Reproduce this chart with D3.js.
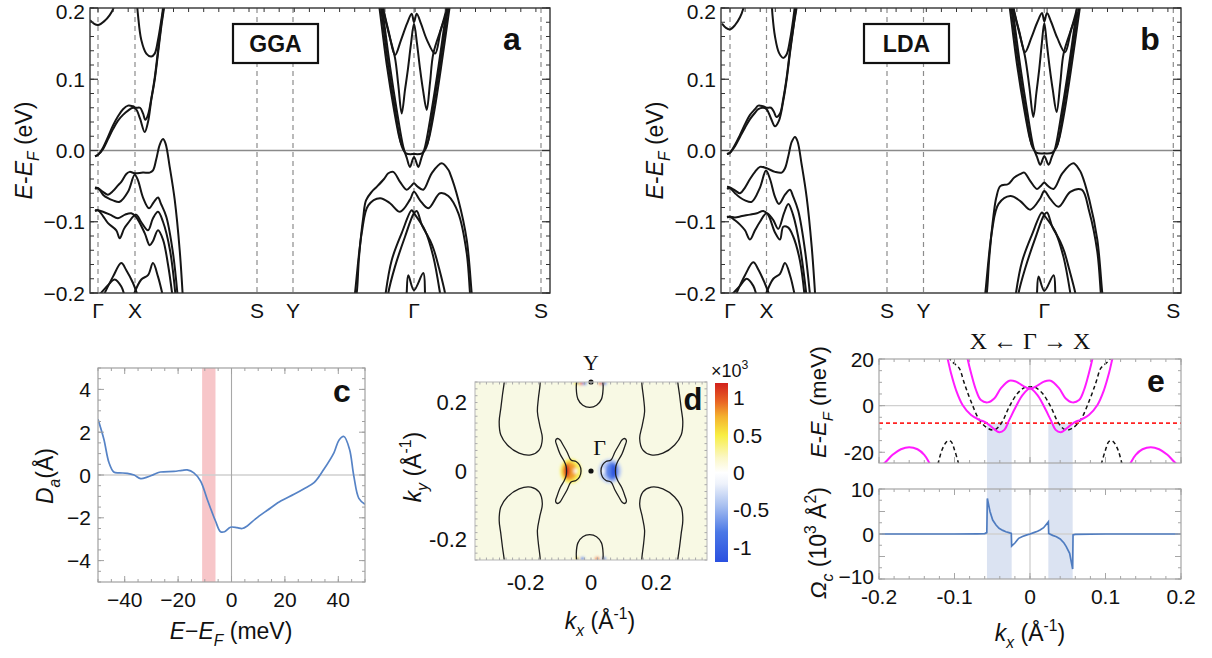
<!DOCTYPE html>
<html><head><meta charset="utf-8">
<script src="https://cdn.jsdelivr.net/npm/d3@7/dist/d3.min.js"></script>
<style>
html,body{margin:0;padding:0;background:#fff;}
svg{display:block;}
text{fill:#111;}
</style></head>
<body><svg id="fig" width="1212" height="658" font-family="'Liberation Sans',Arial,Helvetica,sans-serif"></svg>
<script>
// ---------- band structures (a: GGA, b: LDA) ----------
const pathLabels = ["Γ", "X", "S", "Y", "Γ", "S"];
const ggaPathPos = [0, 0.37, 1.59, 1.95, 3.16, 4.43];
const ldaPathPos = [0, 0.365, 1.57, 1.935, 3.143, 4.433];
const bandEnergyTicks = [-0.2, -0.1, 0, 0.1, 0.2];
const bandEnergyLabels = ["−0.2", "−0.1", "0.0", "0.1", "0.2"];

// bands leaving the first Γ towards X: [k from Γ, E (eV)]
const ggaBandsGX = [
  [[-0.08,0.183],[-0.04,0.178],[0,0.176],[0.067,0.182],[0.117,0.19],[0.15,0.198],[0.17,0.212]],
  [[-0.03,-0.008],[0,-0.006],[0.05,0.002],[0.1,0.016],[0.15,0.03],[0.2,0.042],[0.25,0.05],[0.3,0.056],[0.35,0.06],[0.38,0.058],[0.42,0.045],[0.467,0.026],[0.5,0.04],[0.533,0.071],[0.567,0.099],[0.6,0.136],[0.633,0.174],[0.66,0.2],[0.67,0.215]],
  [[-0.03,-0.008],[0,-0.006],[0.05,0.004],[0.1,0.019],[0.15,0.035],[0.2,0.048],[0.25,0.058],[0.3,0.063],[0.35,0.062],[0.38,0.06],[0.42,0.06],[0.45,0.052],[0.473,0.043],[0.5,0.05],[0.533,0.073],[0.567,0.102],[0.6,0.14],[0.633,0.178],[0.655,0.2],[0.665,0.215]],
  [[0.385,0.215],[0.4,0.19],[0.433,0.155],[0.483,0.136],[0.533,0.132],[0.567,0.136],[0.6,0.155],[0.633,0.183],[0.65,0.2],[0.655,0.215]],
  [[-0.03,-0.052],[0,-0.053],[0.05,-0.058],[0.1,-0.062],[0.15,-0.057],[0.2,-0.049],[0.233,-0.044],[0.283,-0.033],[0.317,-0.03],[0.367,-0.032],[0.45,-0.031],[0.517,-0.031],[0.55,-0.028],[0.583,-0.012],[0.617,0.008],[0.65,0.016],[0.675,0.01],[0.717,-0.023],[0.767,-0.069],[0.817,-0.14],[0.85,-0.21]],
  [[-0.03,-0.054],[0,-0.053],[0.05,-0.062],[0.1,-0.067],[0.15,-0.07],[0.217,-0.072],[0.3,-0.058],[0.367,-0.034],[0.4,-0.042],[0.45,-0.066],[0.51,-0.081],[0.56,-0.072],[0.6,-0.066],[0.63,-0.075],[0.683,-0.093],[0.75,-0.144],[0.8,-0.21]],
  [[-0.03,-0.085],[0,-0.084],[0.05,-0.092],[0.1,-0.102],[0.183,-0.112],[0.217,-0.123],[0.26,-0.11],[0.3,-0.102],[0.38,-0.09],[0.43,-0.1],[0.5,-0.112],[0.55,-0.095],[0.6,-0.086],[0.65,-0.1],[0.72,-0.14],[0.78,-0.21]],
  [[-0.03,-0.084],[0,-0.084],[0.05,-0.086],[0.12,-0.09],[0.2,-0.095],[0.27,-0.09],[0.333,-0.088],[0.38,-0.093],[0.467,-0.116],[0.517,-0.133],[0.55,-0.127],[0.6,-0.112],[0.65,-0.125],[0.7,-0.16],[0.75,-0.21]],
  [[0,-0.205],[0.1,-0.189],[0.167,-0.181],[0.233,-0.191],[0.267,-0.205]],
  [[0.05,-0.205],[0.15,-0.177],[0.233,-0.158],[0.283,-0.168],[0.35,-0.186],[0.4,-0.205]],
  [[0.35,-0.205],[0.433,-0.181],[0.5,-0.175],[0.55,-0.158],[0.6,-0.177],[0.65,-0.205]]
];
// bands around the zone-centre Γ: [k from Γ, E (eV)]
const ggaBandsG = [
  [[-0.32,0.215],[-0.307,0.2],[-0.25,0.165],[-0.19,0.134],[-0.13,0.155],[-0.07,0.178],[-0.023,0.192],[0,0.18],[0.027,0.192],[0.07,0.178],[0.13,0.155],[0.21,0.136],[0.27,0.17],[0.343,0.2],[0.355,0.215]],
  [[-0.32,0.215],[-0.31,0.2],[-0.25,0.163],[-0.19,0.13],[-0.157,0.092],[-0.123,0.052],[-0.09,0.085],[-0.06,0.115],[-0.03,0.15],[0,0.178],[0.03,0.15],[0.06,0.115],[0.09,0.085],[0.127,0.057],[0.16,0.095],[0.193,0.136],[0.277,0.174],[0.327,0.2],[0.34,0.215]],
  [[-0.33,0.215],[-0.317,0.2],[-0.24,0.118],[-0.173,0.057],[-0.107,0.005],[-0.073,-0.01],[-0.04,-0.023],[0,-0.009],[0.043,-0.023],[0.075,-0.01],[0.11,0.005],[0.177,0.057],[0.245,0.118],[0.327,0.2],[0.34,0.215]],
  [[-0.345,0.215],[-0.33,0.2],[-0.255,0.118],[-0.188,0.057],[-0.12,0.005],[-0.08,-0.004],[0,-0.005],[0.08,-0.004],[0.125,0.005],[0.19,0.057],[0.258,0.118],[0.34,0.2],[0.355,0.215]],
  [[-0.36,0.215],[-0.345,0.2],[-0.27,0.118],[-0.2,0.057],[-0.15,0.02],[-0.125,0.008]],
  [[0.13,0.008],[0.155,0.02],[0.205,0.057],[0.272,0.118],[0.355,0.2],[0.37,0.215]],
  [[-0.59,-0.21],[-0.573,-0.2],[-0.55,-0.15],[-0.507,-0.093],[-0.48,-0.07],[-0.423,-0.058],[-0.373,-0.051],[-0.3,-0.04],[-0.257,-0.032],[-0.207,-0.03],[-0.14,-0.044],[-0.073,-0.055],[-0.03,-0.05],[0,-0.046],[0.03,-0.05],[0.093,-0.055],[0.177,-0.032],[0.277,-0.018],[0.343,-0.027],[0.36,-0.032],[0.443,-0.069],[0.527,-0.125],[0.577,-0.2],[0.585,-0.21]],
  [[-0.6,-0.21],[-0.59,-0.2],[-0.523,-0.116],[-0.457,-0.077],[-0.34,-0.067],[-0.24,-0.074],[-0.14,-0.086],[-0.04,-0.069],[0,-0.058],[0.06,-0.07],[0.143,-0.081],[0.26,-0.06],[0.343,-0.064],[0.443,-0.088],[0.527,-0.144],[0.56,-0.2],[0.567,-0.21]],
  [[-0.29,-0.21],[-0.283,-0.2],[-0.223,-0.154],[-0.123,-0.116],[-0.023,-0.084],[0,-0.088],[0.11,-0.112],[0.193,-0.149],[0.26,-0.2],[0.27,-0.21]],
  [[-0.265,-0.21],[-0.257,-0.2],[-0.19,-0.163],[-0.09,-0.121],[0,-0.088],[0.027,-0.085],[0.08,-0.105],[0.13,-0.118],[0.16,-0.126],[0.2,-0.14],[0.25,-0.165],[0.31,-0.2],[0.32,-0.21]],
  [[-0.077,-0.21],[-0.073,-0.2],[-0.057,-0.175],[0,-0.196],[0.093,-0.172],[0.11,-0.2],[0.113,-0.21]]
];
const ldaBandsGX = [
  [[-0.08,0.178],[-0.04,0.172],[0,0.17],[0.05,0.176],[0.1,0.187],[0.13,0.198],[0.15,0.212]],
  [[-0.03,-0.005],[0,-0.003],[0.05,0.006],[0.1,0.019],[0.15,0.032],[0.2,0.044],[0.25,0.053],[0.283,0.058],[0.33,0.06],[0.366,0.058],[0.41,0.045],[0.45,0.034],[0.49,0.042],[0.533,0.07],[0.567,0.1],[0.6,0.137],[0.64,0.178],[0.665,0.2],[0.675,0.215]],
  [[-0.03,-0.005],[0,-0.003],[0.05,0.008],[0.1,0.022],[0.15,0.037],[0.2,0.05],[0.25,0.058],[0.283,0.063],[0.33,0.062],[0.366,0.06],[0.41,0.06],[0.44,0.054],[0.465,0.047],[0.5,0.052],[0.533,0.073],[0.567,0.103],[0.6,0.14],[0.64,0.18],[0.66,0.2],[0.67,0.215]],
  [[0.415,0.215],[0.425,0.19],[0.45,0.16],[0.49,0.137],[0.533,0.13],[0.567,0.135],[0.6,0.155],[0.633,0.185],[0.65,0.205],[0.655,0.215]],
  [[-0.03,-0.051],[0,-0.052],[0.05,-0.056],[0.1,-0.06],[0.15,-0.052],[0.2,-0.04],[0.25,-0.03],[0.3,-0.023],[0.367,-0.025],[0.45,-0.03],[0.517,-0.031],[0.55,-0.025],[0.583,-0.008],[0.617,0.012],[0.65,0.019],[0.675,0.013],[0.717,-0.02],[0.767,-0.066],[0.817,-0.135],[0.855,-0.21]],
  [[-0.03,-0.054],[0,-0.053],[0.05,-0.06],[0.1,-0.066],[0.15,-0.07],[0.217,-0.072],[0.3,-0.052],[0.36,-0.028],[0.4,-0.04],[0.45,-0.065],[0.49,-0.075],[0.55,-0.062],[0.6,-0.055],[0.63,-0.064],[0.683,-0.085],[0.75,-0.14],[0.805,-0.21]],
  [[-0.03,-0.094],[0,-0.093],[0.05,-0.098],[0.1,-0.104],[0.15,-0.112],[0.2,-0.125],[0.25,-0.112],[0.3,-0.1],[0.366,-0.088],[0.43,-0.097],[0.483,-0.11],[0.54,-0.088],[0.583,-0.075],[0.63,-0.09],[0.7,-0.135],[0.77,-0.21]],
  [[-0.03,-0.093],[0,-0.093],[0.05,-0.094],[0.12,-0.092],[0.2,-0.09],[0.27,-0.088],[0.333,-0.085],[0.38,-0.09],[0.45,-0.115],[0.5,-0.125],[0.533,-0.107],[0.58,-0.108],[0.63,-0.12],[0.7,-0.155],[0.75,-0.21]],
  [[0,-0.205],[0.1,-0.19],[0.167,-0.18],[0.233,-0.19],[0.267,-0.205]],
  [[0.05,-0.205],[0.15,-0.175],[0.233,-0.157],[0.283,-0.167],[0.35,-0.187],[0.4,-0.205]],
  [[0.35,-0.205],[0.433,-0.18],[0.5,-0.173],[0.55,-0.158],[0.6,-0.175],[0.65,-0.205]]
];
const ldaBandsG = [
  [[-0.32,0.215],[-0.307,0.2],[-0.25,0.167],[-0.193,0.138],[-0.13,0.158],[-0.07,0.18],[-0.023,0.193],[0,0.181],[0.027,0.193],[0.07,0.18],[0.13,0.158],[0.207,0.138],[0.27,0.17],[0.343,0.2],[0.355,0.215]],
  [[-0.32,0.215],[-0.31,0.2],[-0.25,0.165],[-0.193,0.132],[-0.15,0.09],[-0.11,0.047],[-0.08,0.08],[-0.05,0.115],[-0.025,0.15],[0,0.179],[0.025,0.15],[0.055,0.115],[0.085,0.085],[0.123,0.054],[0.16,0.095],[0.193,0.136],[0.277,0.174],[0.327,0.2],[0.34,0.215]],
  [[-0.33,0.215],[-0.317,0.2],[-0.24,0.118],[-0.173,0.057],[-0.107,0.004],[-0.073,-0.009],[-0.04,-0.02],[0,-0.008],[0.043,-0.02],[0.075,-0.009],[0.11,0.004],[0.177,0.057],[0.245,0.118],[0.327,0.2],[0.34,0.215]],
  [[-0.345,0.215],[-0.33,0.2],[-0.255,0.118],[-0.188,0.057],[-0.12,0.005],[-0.08,-0.003],[0,-0.004],[0.08,-0.003],[0.125,0.005],[0.19,0.057],[0.258,0.118],[0.34,0.2],[0.355,0.215]],
  [[-0.36,0.215],[-0.345,0.2],[-0.27,0.118],[-0.2,0.057],[-0.15,0.02],[-0.125,0.008]],
  [[0.13,0.008],[0.155,0.02],[0.205,0.057],[0.272,0.118],[0.355,0.2],[0.37,0.215]],
  [[-0.59,-0.21],[-0.575,-0.2],[-0.55,-0.15],[-0.507,-0.09],[-0.48,-0.066],[-0.44,-0.05],[-0.36,-0.047],[-0.3,-0.038],[-0.226,-0.032],[-0.2,-0.031],[-0.14,-0.043],[-0.073,-0.054],[-0.03,-0.049],[0,-0.045],[0.03,-0.049],[0.093,-0.054],[0.18,-0.032],[0.29,-0.018],[0.35,-0.027],[0.37,-0.032],[0.45,-0.069],[0.53,-0.125],[0.58,-0.2],[0.59,-0.21]],
  [[-0.6,-0.21],[-0.59,-0.2],[-0.523,-0.113],[-0.457,-0.075],[-0.34,-0.064],[-0.24,-0.071],[-0.14,-0.083],[-0.04,-0.067],[0,-0.057],[0.06,-0.068],[0.143,-0.079],[0.26,-0.058],[0.374,-0.055],[0.45,-0.086],[0.53,-0.142],[0.565,-0.2],[0.572,-0.21]],
  [[-0.29,-0.21],[-0.283,-0.2],[-0.223,-0.156],[-0.123,-0.118],[-0.023,-0.087],[0,-0.091],[0.11,-0.114],[0.193,-0.15],[0.26,-0.2],[0.27,-0.21]],
  [[-0.265,-0.21],[-0.257,-0.2],[-0.19,-0.165],[-0.09,-0.123],[0,-0.09],[0.027,-0.087],[0.08,-0.107],[0.13,-0.12],[0.16,-0.128],[0.2,-0.142],[0.25,-0.167],[0.31,-0.2],[0.32,-0.21]],
  [[-0.077,-0.21],[-0.073,-0.2],[-0.057,-0.177],[0,-0.197],[0.093,-0.175],[0.11,-0.2],[0.113,-0.21]]
];

// ---------- c: anomalous dipole vs energy ----------
const dipolePoints = [
  [-50,2.6],[-47.8,1.67],[-45.9,0.58],[-44.1,0.14],[-42,0.1],[-39,0.08],[-36.5,0.0],[-34,-0.17],[-31.6,-0.1],[-29,0.03],[-26.6,0.14],[-21.6,0.17],[-18.5,0.22],[-16.6,0.24],[-14.1,0.1],[-11.6,-0.28],
  [-9.1,-1.13],[-6,-2.15],[-4.1,-2.65],[-2.6,-2.65],[-0.4,-2.44],[2.1,-2.46],[4,-2.5],[5.9,-2.38],[9,-2.05],[13.4,-1.65],[18,-1.25],[23.4,-0.9],[27,-0.65],[30.9,-0.36],[34.6,0.27],
  [38.4,1.05],[40.3,1.64],[42.1,1.8],[44.2,1.2],[45.8,-0.04],[47.7,-1.09],[50,-1.37]
];
const dipoleWindow = [-11, -6];
const dipoleXTicks = [-40, -20, 0, 20, 40];
const dipoleYTicks = [-4, -2, 0, 2, 4];

// ---------- d: Berry curvature map ----------
// upper-left Fermi pocket; the other three corners are its mirror images
const cornerPocket = [[-0.264,0.28],[-0.266,0.256],[-0.271,0.222],[-0.276,0.183],[-0.281,0.144],[-0.276,0.105],[-0.256,0.076],[-0.22,0.052],[-0.184,0.047],[-0.159,0.061],[-0.149,0.095],[-0.157,0.134],[-0.164,0.173],[-0.161,0.212],[-0.156,0.251],[-0.155,0.28]];
// pocket around Y (top); the bottom one is its mirror
const yPocket = [[-0.042,0.28],[-0.045,0.24],[-0.04,0.21],[-0.025,0.192],[-0.004,0.186],[0.017,0.192],[0.032,0.21],[0.037,0.24],[0.035,0.28]];
// left bow-tie pocket near Γ (closed loop); the right one is its mirror
const bowPocket = [[-0.0305,0],[-0.0351,0.0175],[-0.0458,0.0277],[-0.0611,0.0321],[-0.0733,0.0555],[-0.0855,0.0759],[-0.0947,0.0905],[-0.1023,0.0949],[-0.1084,0.0891],[-0.1038,0.073],[-0.0947,0.0496],[-0.0824,0.0292],[-0.0763,0.0146],[-0.0748,0],
  [-0.0763,-0.0146],[-0.0824,-0.0292],[-0.0947,-0.0496],[-0.1038,-0.073],[-0.1084,-0.0891],[-0.1023,-0.0949],[-0.0947,-0.0905],[-0.0855,-0.0759],[-0.0733,-0.0555],[-0.0611,-0.0321],[-0.0458,-0.0277],[-0.0351,-0.0175]];
// curvature hot spots: [kx, ky, value (×10³), half-width kx, half-height ky]
const curvatureSpots = [
  [-0.062,0,0.45,0.032,0.036],[-0.066,0,0.8,0.022,0.027],[-0.073,0,1.15,0.008,0.019],[-0.047,0,0.05,0.006,0.008],
  [0.058,0,-0.35,0.035,0.036],[0.064,0,-0.75,0.02,0.027],[0.069,0,-1.15,0.008,0.02],[0.036,0,-0.05,0.006,0.008],
  [-0.045,0.258,0.5,0.006,0.006],[-0.031,0.257,1.0,0.006,0.005],[-0.02,0.257,-0.9,0.006,0.005],[0.03,0.257,1.0,0.006,0.005],[0.041,0.257,-0.9,0.006,0.005],
  [-0.042,-0.257,0.6,0.006,0.005],[-0.026,-0.257,-0.9,0.006,0.005],[0.019,-0.257,1.0,0.006,0.005],[0.04,-0.257,-0.9,0.006,0.005]
];
const curvatureStops = [[-1.2,"#2a50e0"],[-0.8,"#4b78e6"],[-0.45,"#a7bff0"],[-0.15,"#eef2fb"],[0,"#ffffff"],[0.2,"#fbf7c6"],[0.5,"#f8ee42"],[0.75,"#f4b12e"],[0.95,"#e96524"],[1.2,"#d2211c"]];
const colorbarTicks = [-1, -0.5, 0, 0.5, 1];
const colorbarLabels = ["-1", "-0.5", "0", "0.5", "1"];
const mapTicks = [-0.2, 0, 0.2];
const mapTickLabels = ["-0.2", "0", "0.2"];

// ---------- e: bands along Γ–X and Berry curvature ----------
// half-branches from k < 0 to Γ; E(k) = E(-k)
const magentaUpperHalf = [[-0.085,24],[-0.0826,20],[-0.078,13.9],[-0.0715,6.7],[-0.065,2.4],[-0.056,1.4],[-0.047,3.2],[-0.0384,7.5],[-0.0274,10.7],[-0.0186,10.3],[-0.0097,8.6],[0,7.3]];
const magentaLowerHalf = [[-0.112,24],[-0.109,20],[-0.1046,13.9],[-0.098,6.7],[-0.0893,0.3],[-0.078,-4.0],[-0.067,-6.1],[-0.0605,-6.9],[-0.054,-8.3],[-0.0473,-10.1],[-0.0407,-11.4],[-0.034,-10.4],[-0.0274,-6.1],[-0.0186,-0.4],[-0.0097,4.6],[0,7.4]];
const dashedHalf = [[-0.108,24],[-0.106,20],[-0.098,17.4],[-0.0936,16],[-0.087,9.6],[-0.078,1.7],[-0.067,-6.1],[-0.056,-9.7],[-0.047,-10.4],[-0.038,-7.6],[-0.0274,-0.4],[-0.0164,5.3],[-0.0053,8.1],[0,8.0]];
const magentaDeep = [[-0.206,-28],[-0.193,-24.7],[-0.182,-21.1],[-0.171,-18.7],[-0.16,-17.8],[-0.149,-18.7],[-0.14,-21.1],[-0.133,-24.7],[-0.127,-28]];
const dashedDeep = [[-0.125,-28],[-0.122,-25],[-0.1157,-18.3],[-0.109,-15.1],[-0.1046,-15.4],[-0.1,-19],[-0.0945,-25],[-0.092,-28]];
const omegaPoints = [[-0.2,0],[-0.1,0],[-0.07,0.05],[-0.06,0.1],[-0.0572,0.3],[-0.0565,7.9],[-0.053,5.0],[-0.0494,3.1],[-0.045,2.0],[-0.041,1.26],[-0.036,0.8],[-0.032,0.5],[-0.028,0.3],[-0.0248,0.15],[-0.0243,-2.67],[-0.02,-2.0],[-0.015,-0.96],[-0.01,-0.55],[-0.005,-0.25],[0,0],[0.005,0.3],[0.01,0.6],[0.0133,0.9],[0.018,1.4],[0.0243,2.7],[0.0248,0.1],[0.03,-0.3],[0.035,-0.6],[0.04,-1.1],[0.045,-2.0],[0.048,-2.8],[0.0525,-4.3],[0.0565,-7.8],[0.057,-0.2],[0.06,-0.1],[0.1,0],[0.2,0]];
const cutWindows = [[-0.057, -0.0243], [0.0243, 0.0565]];
const fermiCut = -7.5;
const kxTicks = [-0.2, -0.1, 0, 0.1, 0.2];
const kxTickLabels = ["-0.2", "-0.1", "0", "0.1", "0.2"];

// ================= drawing =================
const svg = d3.select("#fig");
const defs = svg.append("defs");
const SERIF = "'Liberation Serif','DejaVu Serif',serif";
const rng = (a, b, s) => d3.range(Math.round(a / s), Math.round(b / s) + 1).map(i => +(i * s).toFixed(6));
const mirror = half => half.concat(half.slice(0, -1).reverse().map(([k, e]) => [-k, e]));

function rich(sel, parts, size) {
  let shift = 0;
  parts.forEach(p => {
    const s = typeof p === "string" ? {t: p} : p;
    const ts = sel.append("tspan").text(s.t);
    const target = s.sub ? size * 0.3 : s.sup ? -size * 0.42 : 0;
    if (target !== shift) { ts.attr("dy", target - shift); shift = target; }
    if (s.sub || s.sup) ts.attr("font-size", size * 0.68);
    if (s.i) ts.attr("font-style", "italic");
  });
}
function label(g, x, y, parts, size, o = {}) {
  const t = g.append("text").attr("font-size", size).attr("text-anchor", o.anchor || "middle");
  if (o.rotate) t.attr("transform", `translate(${x},${y}) rotate(-90)`);
  else t.attr("x", x).attr("y", y);
  if (o.bold) t.attr("font-weight", "bold");
  if (o.family) t.attr("font-family", o.family);
  rich(t, parts, size);
  return t;
}
function ticksY(g, y, vals, xEdge, len, dir, color, w) {
  g.append("g").selectAll("line").data(vals).join("line")
    .attr("x1", xEdge).attr("x2", xEdge + dir * len).attr("y1", d => y(d)).attr("y2", d => y(d))
    .attr("stroke", color).attr("stroke-width", w);
}
function ticksX(g, x, vals, yEdge, len, dir, color, w) {
  g.append("g").selectAll("line").data(vals).join("line")
    .attr("y1", yEdge).attr("y2", yEdge + dir * len).attr("x1", d => x(d)).attr("x2", d => x(d))
    .attr("stroke", color).attr("stroke-width", w);
}
function clipRect(id, x0, y0, x1, y1) {
  defs.append("clipPath").attr("id", id).append("rect")
    .attr("x", x0).attr("y", y0).attr("width", x1 - x0).attr("height", y1 - y0);
  return `url(#${id})`;
}

// ----- panels a and b -----
function bandPanel(o) {
  const g = svg.append("g");
  const x = d3.scaleLinear().domain(o.domain).range([o.left, o.right]);
  const y = d3.scaleLinear().domain([-0.2, 0.2]).range([o.bottom, o.top]);
  const clip = clipRect("clip-" + o.id, o.left, o.top, o.right, o.bottom);
  g.append("g").selectAll("line").data(o.pos).join("line")
    .attr("x1", d => x(d)).attr("x2", d => x(d)).attr("y1", o.top).attr("y2", o.bottom)
    .attr("stroke", "#8c8c8c").attr("stroke-width", 1.2).attr("stroke-dasharray", "5,4");
  g.append("line").attr("x1", o.left).attr("x2", o.right).attr("y1", y(0)).attr("y2", y(0))
    .attr("stroke", "#8a8a8a").attr("stroke-width", 1.5);
  const line = d3.line().x(d => x(d[0])).y(d => y(d[1])).curve(d3.curveCatmullRom.alpha(0.5));
  const gamma = o.pos[4];
  const bg = g.append("g").attr("clip-path", clip).attr("fill", "none")
    .attr("stroke", "#151515").attr("stroke-width", 2).attr("stroke-linejoin", "round");
  bg.selectAll("path.gx").data(o.bandsGX).join("path").attr("class", "gx").attr("d", d => line(d));
  bg.selectAll("path.gc").data(o.bandsG).join("path").attr("class", "gc")
    .attr("d", d => line(d.map(([k, e]) => [gamma + k, e])));
  g.append("rect").attr("x", o.left).attr("y", o.top).attr("width", o.right - o.left).attr("height", o.bottom - o.top)
    .attr("fill", "none").attr("stroke", "#333").attr("stroke-width", 1.4);
  const minor = rng(-0.2, 0.2, 0.02);
  ticksY(g, y, minor, o.left, 4, 1, "#333", 1);
  ticksY(g, y, bandEnergyTicks, o.left, 8, 1, "#333", 1.2);
  ticksY(g, y, minor, o.right, 4, -1, "#333", 1);
  ticksY(g, y, bandEnergyTicks, o.right, 8, -1, "#333", 1.2);
  ticksX(g, x, d3.range(0, o.domain[1], 0.151), o.top, 4, 1, "#333", 1);
  g.append("g").selectAll("text").data(bandEnergyTicks).join("text")
    .attr("x", o.left - 5).attr("y", d => Math.max(y(d), o.top + 3)).attr("dy", "0.36em")
    .attr("text-anchor", "end").attr("font-size", 21)
    .text((d, i) => bandEnergyLabels[i]);
  g.append("g").selectAll("text").data(o.pos).join("text")
    .attr("x", d => x(d)).attr("y", o.bottom + 25).attr("text-anchor", "middle").attr("font-size", 21)
    .text((d, i) => pathLabels[i]);
  label(g, o.left - 58, (o.top + o.bottom) / 2, [{t: "E", i: true}, "-", {t: "E", i: true}, {t: "F", i: true, sub: true}, " (eV)"], 23, {rotate: true});
  g.append("rect").attr("x", o.left + 143).attr("y", 24).attr("width", 85).attr("height", 39)
    .attr("fill", "#fff").attr("stroke", "#111").attr("stroke-width", 2.2);
  g.append("text").attr("x", o.left + 185.5).attr("y", 52).attr("text-anchor", "middle")
    .attr("font-size", 23).attr("font-weight", "bold").text(o.box);
  g.append("text").attr("x", o.left + o.letterDx).attr("y", 50).attr("text-anchor", "middle")
    .attr("font-size", 32).attr("font-weight", "bold").text(o.letter);
}
bandPanel({id: "a", left: 90, right: 550, top: 8, bottom: 293, domain: [-0.08, 4.52], pos: ggaPathPos,
  bandsGX: ggaBandsGX, bandsG: ggaBandsG, box: "GGA", letter: "a", letterDx: 422});
bandPanel({id: "b", left: 721, right: 1181, top: 8, bottom: 293, domain: [-0.09, 4.51], pos: ldaPathPos,
  bandsGX: ldaBandsGX, bandsG: ldaBandsG, box: "LDA", letter: "b", letterDx: 429});

// ----- panel c -----
(function () {
  const g = svg.append("g");
  const L = 98, R = 365, T = 368, B = 582;
  const x = d3.scaleLinear().domain([-50, 50]).range([L, R]);
  const y = d3.scaleLinear().domain([-5, 5]).range([B, T]);
  g.append("rect").attr("x", x(dipoleWindow[0])).attr("y", T).attr("width", x(dipoleWindow[1]) - x(dipoleWindow[0]))
    .attr("height", B - T).attr("fill", "#f7c6c9");
  g.append("line").attr("x1", L).attr("x2", R).attr("y1", y(0)).attr("y2", y(0)).attr("stroke", "#cfcfcf").attr("stroke-width", 1.3);
  g.append("line").attr("x1", x(0)).attr("x2", x(0)).attr("y1", T).attr("y2", B).attr("stroke", "#a8a8a8").attr("stroke-width", 1.1);
  const line = d3.line().x(d => x(d[0])).y(d => y(d[1])).curve(d3.curveCatmullRom.alpha(0.5));
  g.append("path").attr("d", line(dipolePoints)).attr("fill", "none").attr("stroke", "#5683c6").attr("stroke-width", 1.7)
    .attr("clip-path", clipRect("clip-c", L, T, R, B));
  g.append("rect").attr("x", L).attr("y", T).attr("width", R - L).attr("height", B - T)
    .attr("fill", "none").attr("stroke", "#a0a0a0").attr("stroke-width", 1.2);
  const xm = rng(-50, 50, 5), ym = rng(-5, 5, 0.5);
  ticksX(g, x, xm, B, 3, -1, "#a0a0a0", 1); ticksX(g, x, dipoleXTicks, B, 6, -1, "#a0a0a0", 1);
  ticksX(g, x, xm, T, 3, 1, "#a0a0a0", 1); ticksX(g, x, dipoleXTicks, T, 6, 1, "#a0a0a0", 1);
  ticksY(g, y, ym, L, 3, 1, "#a0a0a0", 1); ticksY(g, y, dipoleYTicks, L, 6, 1, "#a0a0a0", 1);
  ticksY(g, y, ym, R, 3, -1, "#a0a0a0", 1); ticksY(g, y, dipoleYTicks, R, 6, -1, "#a0a0a0", 1);
  g.append("g").selectAll("text").data(dipoleYTicks).join("text")
    .attr("x", L - 7).attr("y", d => y(d)).attr("dy", "0.36em").attr("text-anchor", "end").attr("font-size", 21)
    .text(d => d < 0 ? "−" + Math.abs(d) : d);
  g.append("g").selectAll("text").data(dipoleXTicks).join("text")
    .attr("x", d => x(d)).attr("y", 607).attr("text-anchor", "middle").attr("font-size", 21)
    .text(d => d < 0 ? "−" + Math.abs(d) : d);
  label(g, 231, 639, [{t: "E", i: true}, "−", {t: "E", i: true}, {t: "F", i: true, sub: true}, " (meV)"], 23);
  label(g, 53, 476, [{t: "D", i: true}, {t: "a", i: true, sub: true}, "(Å)"], 23, {rotate: true});
  g.append("text").attr("x", 342).attr("y", 402).attr("text-anchor", "middle").attr("font-size", 32)
    .attr("font-weight", "bold").text("c");
})();

// ----- panel d -----
(function () {
  const g = svg.append("g");
  const L = 475, R = 707, T = 382, B = 560;
  const x = d3.scaleLinear().domain([-0.355, 0.355]).range([L, R]);
  const y = d3.scaleLinear().domain([-0.26, 0.26]).range([B, T]);
  const color = d3.scaleLinear().domain(curvatureStops.map(d => d[0])).range(curvatureStops.map(d => d[1]));
  const clip = clipRect("clip-d", L, T, R, B);
  g.append("rect").attr("x", L).attr("y", T).attr("width", R - L).attr("height", B - T).attr("fill", "#f8f9e4");
  defs.append("filter").attr("id", "soft").attr("x", "-50%").attr("y", "-50%").attr("width", "200%").attr("height", "200%")
    .append("feGaussianBlur").attr("stdDeviation", 1.4);
  g.append("g").attr("clip-path", clip).append("g").attr("filter", "url(#soft)")
    .selectAll("ellipse").data(curvatureSpots).join("ellipse")
    .attr("cx", d => x(d[0])).attr("cy", d => y(d[1]))
    .attr("rx", d => x(d[0] + d[3]) - x(d[0])).attr("ry", d => y(d[1] - d[4]) - y(d[1]))
    .attr("fill", d => color(d[2]));
  const line = d3.line().x(d => x(d[0])).y(d => y(d[1])).curve(d3.curveCatmullRom.alpha(0.5));
  const closed = d3.line().x(d => x(d[0])).y(d => y(d[1])).curve(d3.curveCatmullRomClosed.alpha(0.5));
  const cg = g.append("g").attr("clip-path", clip).attr("fill", "none").attr("stroke", "#1e1e1e").attr("stroke-width", 1.3);
  [[1, 1], [-1, 1], [1, -1], [-1, -1]].forEach(([sx, sy]) => {
    cg.append("path").attr("d", line(cornerPocket.map(([a, b]) => [sx * a, sy * b])));
  });
  [1, -1].forEach(sy => cg.append("path").attr("d", line(yPocket.map(([a, b]) => [a, sy * b]))));
  [1, -1].forEach(sx => cg.append("path").attr("d", closed(bowPocket.map(([a, b]) => [sx * a, b]))));
  g.append("circle").attr("cx", x(0)).attr("cy", y(0)).attr("r", 2.6).attr("fill", "#111");
  g.append("circle").attr("cx", x(0)).attr("cy", T).attr("r", 2.6).attr("fill", "#111");
  g.append("text").attr("x", x(0)).attr("y", T - 12).attr("text-anchor", "middle").attr("font-family", SERIF).attr("font-size", 22).text("Y");
  g.append("text").attr("x", x(0.026)).attr("y", y(0.048)).attr("text-anchor", "middle").attr("font-family", SERIF).attr("font-size", 22).text("Γ");
  g.append("rect").attr("x", L).attr("y", T).attr("width", R - L).attr("height", B - T)
    .attr("fill", "none").attr("stroke", "#c2c2c2").attr("stroke-width", 1.2);
  const tm = rng(-0.34, 0.34, 0.02), tym = rng(-0.26, 0.26, 0.02);
  ticksX(g, x, tm, B, 2.5, -1, "#aaa", 1); ticksX(g, x, tm, T, 2.5, 1, "#aaa", 1);
  ticksY(g, y, tym, L, 2.5, 1, "#aaa", 1); ticksY(g, y, tym, R, 2.5, -1, "#aaa", 1);
  g.append("g").selectAll("text").data(mapTicks).join("text")
    .attr("x", L - 8).attr("y", d => y(d)).attr("dy", "0.36em").attr("text-anchor", "end").attr("font-size", 22)
    .text((d, i) => mapTickLabels[i]);
  g.append("g").selectAll("text").data(mapTicks).join("text")
    .attr("x", d => x(d)).attr("y", 590).attr("text-anchor", "middle").attr("font-size", 22)
    .text((d, i) => mapTickLabels[i]);
  label(g, 600, 629, [{t: "k", i: true}, {t: "x", i: true, sub: true}, " (Å", {t: "-1", sup: true}, ")"], 23);
  label(g, 421, 467, [{t: "k", i: true}, {t: "y", i: true, sub: true}, " (Å", {t: "-1", sup: true}, ")"], 23, {rotate: true});
  g.append("text").attr("x", 693).attr("y", 410).attr("text-anchor", "middle").attr("font-size", 31)
    .attr("font-weight", "bold").text("d");
  // colour bar
  const cb = d3.scaleLinear().domain([-1.2, 1.2]).range([562, 383]);
  const grad = defs.append("linearGradient").attr("id", "cbar").attr("x1", 0).attr("x2", 0).attr("y1", 1).attr("y2", 0);
  grad.selectAll("stop").data(curvatureStops).join("stop")
    .attr("offset", d => (d[0] + 1.2) / 2.4).attr("stop-color", d => d[1]);
  g.append("rect").attr("x", 715).attr("y", cb(1.2)).attr("width", 13).attr("height", cb(-1.2) - cb(1.2)).attr("fill", "url(#cbar)");
  g.append("g").selectAll("text").data(colorbarTicks).join("text")
    .attr("x", 733).attr("y", d => cb(d)).attr("dy", "0.36em").attr("font-size", 21)
    .text((d, i) => colorbarLabels[i]);
  label(g, 711, 377, ["×10", {t: "3", sup: true}], 18, {anchor: "start"});
})();

// ----- panel e -----
(function () {
  const g = svg.append("g");
  const L = 879, R = 1181, T1 = 359, B1 = 463, T2 = 489, B2 = 579;
  const x = d3.scaleLinear().domain([-0.2, 0.2]).range([L, R]);
  const yE = d3.scaleLinear().domain([-24.6, 20]).range([B1, T1]);
  const yO = d3.scaleLinear().domain([-10, 10]).range([B2, T2]);
  g.append("g").selectAll("rect").data(cutWindows).join("rect")
    .attr("x", d => x(d[0])).attr("width", d => x(d[1]) - x(d[0]))
    .attr("y", yE(fermiCut)).attr("height", yO(-10) - yE(fermiCut)).attr("fill", "#dbe3f2");
  [[yE, T1, B1], [yO, T2, B2]].forEach(([y, T, B]) => {
    g.append("line").attr("x1", L).attr("x2", R).attr("y1", y(0)).attr("y2", y(0)).attr("stroke", "#d0d0d0").attr("stroke-width", 1.3);
    g.append("line").attr("x1", x(0)).attr("x2", x(0)).attr("y1", T).attr("y2", B).attr("stroke", "#d0d0d0").attr("stroke-width", 1.3);
  });
  const clipTop = clipRect("clip-e1", L, T1, R, B1);
  const clipBot = clipRect("clip-e2", L, T2, R, B2);
  const lt = d3.line().x(d => x(d[0])).y(d => yE(d[1])).curve(d3.curveCatmullRom.alpha(0.5));
  const top = g.append("g").attr("clip-path", clipTop).attr("fill", "none");
  top.append("line").attr("x1", L).attr("x2", R).attr("y1", yE(fermiCut)).attr("y2", yE(fermiCut))
    .attr("stroke", "#ff2323").attr("stroke-width", 1.6).attr("stroke-dasharray", "4,3");
  const dashed = [mirror(dashedHalf), dashedDeep, dashedDeep.map(([k, e]) => [-k, e]).reverse()];
  top.selectAll("path.dash").data(dashed).join("path").attr("class", "dash").attr("d", d => lt(d))
    .attr("stroke", "#111").attr("stroke-width", 1.5).attr("stroke-dasharray", "4,3");
  const magenta = [mirror(magentaUpperHalf), mirror(magentaLowerHalf), magentaDeep, magentaDeep.map(([k, e]) => [-k, e]).reverse()];
  top.selectAll("path.mag").data(magenta).join("path").attr("class", "mag").attr("d", d => lt(d))
    .attr("stroke", "#ff1cff").attr("stroke-width", 2);
  const lo = d3.line().x(d => x(d[0])).y(d => yO(d[1]));
  g.append("path").attr("clip-path", clipBot).attr("d", lo(omegaPoints)).attr("fill", "none")
    .attr("stroke", "#4f7cc0").attr("stroke-width", 1.7);
  [[yE, T1, B1, rng(-20, 20, 5), [-20, 0, 20]], [yO, T2, B2, rng(-10, 10, 2.5), [-10, -5, 0, 5, 10]]].forEach(([y, T, B, ym, yM]) => {
    g.append("rect").attr("x", L).attr("y", T).attr("width", R - L).attr("height", B - T)
      .attr("fill", "none").attr("stroke", "#a6a6a6").attr("stroke-width", 1.2);
    const xm = rng(-0.2, 0.2, 0.02);
    ticksX(g, x, xm, B, 3, -1, "#a6a6a6", 1); ticksX(g, x, kxTicks, B, 6, -1, "#a6a6a6", 1);
    ticksX(g, x, xm, T, 3, 1, "#a6a6a6", 1); ticksX(g, x, kxTicks, T, 6, 1, "#a6a6a6", 1);
    ticksY(g, y, ym, L, 3, 1, "#a6a6a6", 1); ticksY(g, y, yM, L, 6, 1, "#a6a6a6", 1);
    ticksY(g, y, ym, R, 3, -1, "#a6a6a6", 1); ticksY(g, y, yM, R, 6, -1, "#a6a6a6", 1);
  });
  g.append("g").selectAll("text").data([20, 0, -20]).join("text")
    .attr("x", L - 5).attr("y", d => yE(d)).attr("dy", "0.36em").attr("text-anchor", "end").attr("font-size", 21)
    .text(d => d < 0 ? "-" + Math.abs(d) : d);
  g.append("g").selectAll("text").data([10, 0, -10]).join("text")
    .attr("x", L - 5).attr("y", d => yO(d) - (d < 0 ? 3 : 0)).attr("dy", "0.36em").attr("text-anchor", "end").attr("font-size", 21)
    .text(d => d < 0 ? "−" + Math.abs(d) : d);
  g.append("g").selectAll("text").data(kxTicks).join("text")
    .attr("x", d => x(d)).attr("y", 604).attr("text-anchor", "middle").attr("font-size", 21)
    .text((d, i) => kxTickLabels[i]);
  label(g, x(0), 641, [{t: "k", i: true}, {t: "x", i: true, sub: true}, " (Å", {t: "-1", sup: true}, ")"], 23);
  label(g, 826, 402, [{t: "E", i: true}, "-", {t: "E", i: true}, {t: "F", i: true, sub: true}, " (meV)"], 22, {rotate: true});
  label(g, 826, 543, [{t: "Ω", i: true}, {t: "c", i: true, sub: true}, " (10", {t: "3", sup: true}, " Å", {t: "2", sup: true}, ")"], 23, {rotate: true});
  g.append("text").attr("x", x(0)).attr("y", 349).attr("text-anchor", "middle").attr("font-family", SERIF)
    .attr("font-size", 24).text("X ← Γ → X");
  g.append("text").attr("x", 1156).attr("y", 392).attr("text-anchor", "middle").attr("font-size", 32)
    .attr("font-weight", "bold").text("e");
})();
</script>
</body></html>
